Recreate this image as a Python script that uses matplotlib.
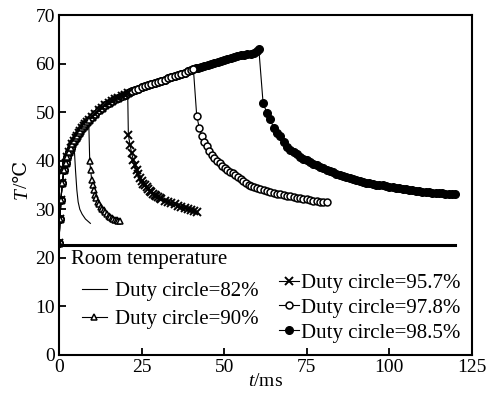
import matplotlib
matplotlib.use('Agg')
import matplotlib.pyplot as plt

plt.rcParams['font.family'] = ['Liberation Serif', 'DejaVu Serif']
plt.rcParams['mathtext.fontset'] = 'custom'
plt.rcParams['mathtext.rm'] = 'Liberation Serif'
plt.rcParams['mathtext.it'] = 'Liberation Serif:italic'

# Shared heating curve (time in ms, temperature in degC)
heat_t = [0, 0.3, 0.6, 1.0, 1.5, 2.0, 2.5, 3.0, 3.5, 4.0, 4.5, 5, 5.5, 6, 6.5, 7, 7.5, 8, 8.5, 9,
          10, 11, 12, 13, 14, 15, 16, 17, 18, 19, 20, 20.8, 21.5, 22, 23, 24, 25, 26, 27, 28, 29,
          30, 31, 32, 33, 34, 35, 36, 37, 38, 39, 40, 40.7, 41.5, 42, 43, 44, 45, 46, 47, 48, 49,
          50, 51, 52, 53, 54, 55, 56, 57, 58, 59, 60, 60.5]
heat_T = [23, 28, 32, 35.5, 38, 39.5, 40.8, 41.8, 42.6, 43.4, 44, 44.6, 45.1, 45.7, 46.2, 46.7, 47.1, 47.5, 47.9, 48.3,
          49, 49.7, 50.4, 50.9, 51.4, 51.9, 52.3, 52.7, 53, 53.3, 53.6, 53.9, 54.1, 54.3, 54.6, 54.8, 55.1, 55.3, 55.6, 55.8, 56.1,
          56.3, 56.5, 56.7, 57, 57.2, 57.4, 57.6, 57.9, 58.1, 58.4, 58.6, 58.8, 59, 59.1, 59.3, 59.6, 59.8, 60, 60.2, 60.4, 60.6,
          60.8, 61, 61.2, 61.3, 61.5, 61.7, 61.8, 61.9, 62, 62.2, 62.5, 63]

# Switch-off times per duty circle
off_82, off_90, off_957, off_978, off_985 = 4.5, 9, 20.8, 40.7, 60.5

cool_82_t = [5.0, 5.4, 5.8, 6.3, 7, 8, 9, 9.5]
cool_82_T = [38, 34, 31.5, 30, 29, 28, 27.4, 27.1]

cool_90_t = [9.3, 9.6, 9.9, 10.2, 10.5, 10.9, 11.3, 11.7, 12.1, 12.6, 13.0, 13.5, 14, 14.5, 15, 15.5,
             16, 16.5, 17, 17.5, 18, 18.5]
cool_90_T = [40, 38, 36, 35, 34, 33, 32.3, 31.6, 31, 30.5, 30.1, 29.8, 29.4, 29, 28.7, 28.4,
             28.2, 28, 27.8, 27.7, 27.6, 27.5]

cool_957_t = [21, 21.5, 22, 22.5, 23, 23.5, 24, 24.5, 25, 25.5, 26, 26.5, 27, 27.5, 28, 28.5, 29, 29.5,
              30, 30.5, 31, 32, 33, 34, 35, 36, 37, 38, 39, 40, 41, 41.7]
cool_957_T = [45.3, 43.3, 41.5, 40.2, 39.1, 38.1, 37.2, 36.5, 35.8, 35.3, 34.9, 34.5, 34.1, 33.8, 33.5, 33.2, 33, 32.8,
              32.6, 32.4, 32.2, 31.8, 31.5, 31.2, 31, 30.7, 30.5, 30.2, 30, 29.8, 29.6, 29.5]

cool_978_t = [41.7, 42.5, 43.3, 44, 44.7, 45.5, 46.3, 47, 47.8, 48.6, 49.4, 50.2, 51, 51.8, 52.6, 53.4, 54.2, 55,
              55.8, 56.6, 57.4, 58.2, 59, 60, 61, 62, 63, 64, 65, 66, 67, 68, 69, 70, 71, 72, 73, 74, 75,
              76, 77, 78, 79, 80, 81]
cool_978_T = [49.2, 46.7, 45, 43.8, 43, 42, 41.2, 40.5, 40, 39.5, 39, 38.5, 38.1, 37.7, 37.4, 37, 36.6, 36.2,
              35.8, 35.4, 35.1, 34.8, 34.6, 34.3, 34.1, 33.9, 33.7, 33.5, 33.4, 33.2, 33.1, 33, 32.8, 32.7, 32.6, 32.4, 32.3, 32.2, 32.1,
              31.9, 31.8, 31.7, 31.6, 31.5, 31.4]

cool_985_t = [61.8, 63, 64, 65, 66, 67, 68, 69, 70, 71, 72, 73, 74, 75, 76, 77, 78, 79, 80, 81, 82, 83, 84, 85,
              86, 87, 88, 89, 90, 91, 92, 93, 94, 95, 96, 97, 98, 99, 100, 101, 102, 103, 104, 105, 106, 107,
              108, 109, 110, 111, 112, 113, 114, 115, 116, 117, 118, 119, 120]
cool_985_T = [51.8, 49.8, 48.5, 46.7, 45.8, 45, 43.8, 42.9, 42.3, 41.8, 41.3, 40.8, 40.4, 40.1, 39.7, 39.4, 39.1, 38.7,
              38.4, 38.1, 37.8, 37.6, 37.3, 37.1, 36.9, 36.7, 36.4, 36.2, 36, 35.8, 35.7, 35.5, 35.4, 35.3, 35.1, 35,
              34.9, 34.7, 34.6, 34.5, 34.4, 34.3, 34.2, 34.1, 34, 33.9, 33.8, 33.7, 33.6, 33.55, 33.5, 33.45, 33.4,
              33.35, 33.3, 33.2, 33.15, 33.1, 33.05]

room_t = [0, 120]
room_T = [22.6, 22.6]

x_ticks = [0, 25, 50, 75, 100, 125]
y_ticks = [0, 10, 20, 30, 40, 50, 60, 70]


def series(off, ct, cT):
    t = [a for a in heat_t if a <= off] + ct
    T = [b for a, b in zip(heat_t, heat_T) if a <= off] + cT
    return t, T


fig = plt.figure(figsize=(4.9, 3.95), dpi=100)
ax = fig.add_axes([0.1204, 0.1013, 0.8426, 0.8607])

t, T = series(off_82, cool_82_t, cool_82_T)
l82, = ax.plot(t, T, color='black', lw=0.8, label='Duty circle=82%')
t, T = series(off_985, cool_985_t, cool_985_T)
l985, = ax.plot(t, T, color='black', lw=0.8, marker='o', ms=5.5, mfc='black', mec='black',
                label='Duty circle=98.5%')
t, T = series(off_978, cool_978_t, cool_978_T)
l978, = ax.plot(t, T, color='black', lw=0.8, marker='o', ms=5, mfc='white', mec='black', mew=1.1,
                label='Duty circle=97.8%')
t, T = series(off_957, cool_957_t, cool_957_T)
l957, = ax.plot(t, T, color='black', lw=0.8, marker='x', ms=5.5, mew=1.4,
                label='Duty circle=95.7%')
t, T = series(off_90, cool_90_t, cool_90_T)
l90, = ax.plot(t, T, color='black', lw=0.8, marker='^', ms=5, mfc='white', mec='black', mew=1.1,
               label='Duty circle=90%')

ax.plot(room_t, room_T, color='black', lw=2.2)
ax.text(3.6, 19.7, 'Room temperature', fontsize=15, va='center', ha='left')

ax.set_xlim(0, 125)
ax.set_ylim(0, 70)
ax.set_xticks(x_ticks)
ax.set_yticks(y_ticks)
ax.tick_params(direction='in', length=5, width=1.3, labelsize=14, pad=3)
for s in ax.spines.values():
    s.set_linewidth(1.5)

ax.set_xlabel('$t$/ms', fontsize=14, labelpad=-2)
# y label: italic T followed by "/℃" (two text pieces, rotated)
fig.text(0.046, 0.497, 'T', rotation=90, fontsize=14, style='italic',
         ha='center', va='bottom')
fig.text(0.046, 0.525, '/\u2103', rotation=90, fontsize=14,
         family=['Liberation Serif', 'DejaVu Serif', 'DejaVu Sans'], ha='center', va='bottom')

leg1 = ax.legend(handles=[l82, l90], loc='upper left', bbox_to_anchor=(0.055, 0.215),
                 frameon=False, fontsize=15, handlelength=1.2, handletextpad=0.4,
                 labelspacing=0.4, borderpad=0, borderaxespad=0)
ax.add_artist(leg1)
ax.legend(handles=[l957, l978, l985], loc='upper left', bbox_to_anchor=(0.532, 0.24),
          frameon=False, fontsize=15, handlelength=1.0, handletextpad=0.05,
          labelspacing=0.25, borderpad=0, borderaxespad=0)

fig.savefig('out.png', dpi=100)
